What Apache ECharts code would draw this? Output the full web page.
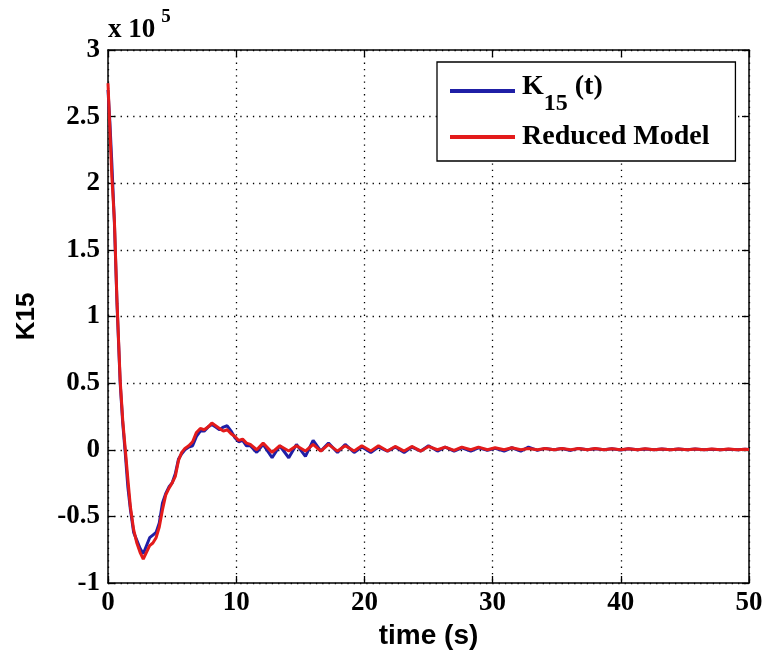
<!DOCTYPE html>
<html>
<head>
<meta charset="utf-8">
<script src="https://cdn.jsdelivr.net/npm/echarts@6/dist/echarts.min.js"></script>
<style>
html,body{margin:0;padding:0;background:#fff;}
#chart{width:770px;height:659px;}
</style>
</head>
<body>
<div id="chart"></div>
<script>
// time (s)
const timeS = [0, 0.15, 0.3, 0.5, 0.7, 0.95, 1.15, 1.35, 1.55, 1.75, 2.0, 2.25, 2.5, 2.75, 3.0, 3.25, 3.5, 3.75, 4.0, 4.25, 4.5, 4.75, 5.0, 5.25, 5.5, 5.75, 6.0, 6.3, 6.6, 6.9, 7.2, 7.5, 7.8, 8.1, 8.4, 8.7, 9.0, 9.3, 9.6, 9.9, 10.2, 10.5, 10.8, 11.1, 11.6, 12.1, 12.8, 13.4, 14.1, 14.7, 15.4, 16.0, 16.6, 17.2, 17.9, 18.5, 19.2, 19.8, 20.5, 21.1, 21.8, 22.4, 23.1, 23.7, 24.4, 25.0, 25.7, 26.3, 27.0, 27.6, 28.3, 28.9, 29.6, 30.2, 30.9, 31.5, 32.2, 32.8, 33.5, 34.1, 34.8, 35.4, 36.1, 36.7, 37.4, 38.0, 38.7, 39.3, 40.0, 40.6, 41.3, 41.9, 42.6, 43.2, 43.9, 44.5, 45.2, 45.8, 46.5, 47.1, 47.8, 48.4, 49.1, 49.7, 50];
// K15(t), units of 1e5
const k15 = [2.7, 2.45, 2.15, 1.7, 1.1, 0.5, 0.2, -0.03, -0.28, -0.45, -0.62, -0.68, -0.74, -0.78, -0.72, -0.66, -0.64, -0.62, -0.55, -0.40, -0.33, -0.28, -0.25, -0.18, -0.07, -0.03, 0.0, 0.02, 0.03, 0.10, 0.14, 0.14, 0.17, 0.19, 0.17, 0.15, 0.17, 0.18, 0.14, 0.09, 0.06, 0.07, 0.03, 0.03, -0.02, 0.04, -0.06, 0.03, -0.06, 0.04, -0.05, 0.07, -0.01, 0.05, -0.02, 0.04, -0.02, 0.02, -0.02, 0.02, -0.01, 0.02, -0.02, 0.02, -0.01, 0.03, -0.01, 0.02, -0.01, 0.015, -0.01, 0.015, -0.005, 0.01, -0.01, 0.015, -0.01, 0.02, -0.005, 0.01, 0.0, 0.01, -0.005, 0.01, 0.0, 0.008, 0.0, 0.008, -0.002, 0.008, 0.0, 0.006, 0.0, 0.006, 0.0, 0.005, 0.0, 0.005, 0.0, 0.004, 0.0, 0.004, 0.0, 0.003, 0.002];
// Reduced model, units of 1e5
const reduced = [2.75, 2.4, 2.05, 1.72, 1.12, 0.52, 0.22, 0.0, -0.22, -0.43, -0.6, -0.7, -0.77, -0.82, -0.77, -0.72, -0.70, -0.66, -0.58, -0.45, -0.34, -0.29, -0.25, -0.20, -0.08, -0.02, 0.01, 0.03, 0.06, 0.13, 0.16, 0.15, 0.17, 0.20, 0.18, 0.16, 0.14, 0.15, 0.12, 0.10, 0.07, 0.08, 0.05, 0.04, 0.0, 0.05, -0.02, 0.03, -0.01, 0.03, -0.01, 0.04, -0.01, 0.04, -0.01, 0.03, -0.01, 0.03, -0.01, 0.03, -0.01, 0.025, -0.01, 0.025, -0.01, 0.025, 0.0, 0.02, -0.005, 0.02, 0.0, 0.02, 0.0, 0.015, 0.0, 0.015, 0.0, 0.01, 0.0, 0.01, 0.0, 0.01, 0.0, 0.01, 0.0, 0.01, 0.0, 0.008, 0.0, 0.008, 0.0, 0.008, 0.0, 0.006, 0.0, 0.006, 0.0, 0.006, 0.0, 0.005, 0.0, 0.005, 0.0, 0.004, 0.002];

const seriesNames = ['K15', 'Reduced Model'];
const xTicks = [0, 10, 20, 30, 40, 50];
const yTicks = [-1, -0.5, 0, 0.5, 1, 1.5, 2, 2.5, 3];
const yScaleLabel = 'x 10';
const yScaleExp = '5';
const xTitle = 'time (s)';
const yTitle = 'K15';

const pairs = (ys) => timeS.map((t, i) => [t, ys[i]]);

const chart = echarts.init(document.getElementById('chart'));
const tickFont = {fontFamily: 'Liberation Serif', fontWeight: 'bold', fontSize: 27, color: '#000'};
const axisLine = {show: true, onZero: false, lineStyle: {color: '#000', width: 1.5}};
const splitLine = {show: true, lineStyle: {color: '#000', width: 1.3, type: [1.3, 5]}};
const axisTick = {show: true, inside: true, length: 7, lineStyle: {color: '#000', width: 1.3}};

chart.setOption({
  animation: false,
  backgroundColor: '#fff',
  grid: {left: 108, right: 21, top: 50, bottom: 76, containLabel: false},
  xAxis: [{
    type: 'value', min: xTicks[0], max: xTicks[xTicks.length - 1], interval: 10,
    axisLine: axisLine, axisTick: axisTick,
    axisLabel: Object.assign({margin: 7, formatter: v => String(v)}, tickFont),
    splitLine: splitLine,
    name: xTitle, nameLocation: 'middle', nameGap: 34,
    nameTextStyle: {fontFamily: 'Liberation Sans', fontWeight: 'bold', fontSize: 28, color: '#000'}
  }, {
    type: 'value', position: 'top', min: xTicks[0], max: xTicks[xTicks.length - 1], interval: 10,
    axisLine: axisLine, axisTick: axisTick,
    axisLabel: {show: false}, splitLine: {show: false}
  }],
  yAxis: [{
    type: 'value', min: yTicks[0], max: yTicks[yTicks.length - 1], interval: 0.5,
    axisLine: axisLine, axisTick: axisTick,
    axisLabel: Object.assign({margin: 8, formatter: v => String(v)}, tickFont),
    splitLine: splitLine,
    name: yTitle, nameLocation: 'middle', nameGap: 68, nameRotate: 90,
    nameTextStyle: {fontFamily: 'Liberation Sans', fontWeight: 'bold', fontSize: 26, color: '#000'}
  }, {
    type: 'value', position: 'right', min: yTicks[0], max: yTicks[yTicks.length - 1], interval: 0.5,
    axisLine: axisLine, axisTick: axisTick,
    axisLabel: {show: false}, splitLine: {show: false}
  }],
  legend: {
    orient: 'vertical', left: 437, top: 62,
    padding: [4, 26, 10, 13],
    itemGap: 7, itemWidth: 65, itemHeight: 14,
    backgroundColor: '#fff', borderColor: '#000', borderWidth: 1.3, borderRadius: 0,
    data: seriesNames.map(n => ({name: n, icon: 'path://M0,0 L100,0 L100,6 L0,6 Z'})),
    formatter: name => name === 'K15' ? '{a|K}{b|15}{a| (t)}' : '{r|' + name + '}',
    textStyle: {
      padding: [0, 0, 0, 2],
      rich: {
        a: {fontFamily: 'Liberation Serif', fontWeight: 'bold', fontSize: 28, lineHeight: 28, padding: [0, 0, 8, 0], color: '#000'},
        b: {fontFamily: 'Liberation Serif', fontWeight: 'bold', fontSize: 24, lineHeight: 22, padding: [26, 0, 0, 0], color: '#000'},
        r: {fontFamily: 'Liberation Serif', fontWeight: 'bold', fontSize: 28, lineHeight: 28, color: '#000'}
      }
    }
  },
  graphic: [{
    type: 'text', left: 108, top: 8,
    style: {
      text: '{a|' + yScaleLabel + '}{s|' + yScaleExp + '}',
      rich: {
        a: {fontFamily: 'Liberation Serif', fontWeight: 'bold', fontSize: 27, lineHeight: 30, padding: [8, 0, 0, 0], fill: '#000'},
        s: {fontFamily: 'Liberation Serif', fontWeight: 'bold', fontSize: 19, lineHeight: 20, padding: [0, 0, 18, 6], fill: '#000'}
      }
    }
  }],
  series: [{
    name: seriesNames[0], type: 'line', data: pairs(k15), showSymbol: false,
    lineStyle: {color: '#1f1fa6', width: 3}, itemStyle: {color: '#1f1fa6'}, z: 2
  }, {
    name: seriesNames[1], type: 'line', data: pairs(reduced), showSymbol: false,
    lineStyle: {color: '#e31b1b', width: 3}, itemStyle: {color: '#e31b1b'}, z: 3
  }]
});
</script>
</body>
</html>
